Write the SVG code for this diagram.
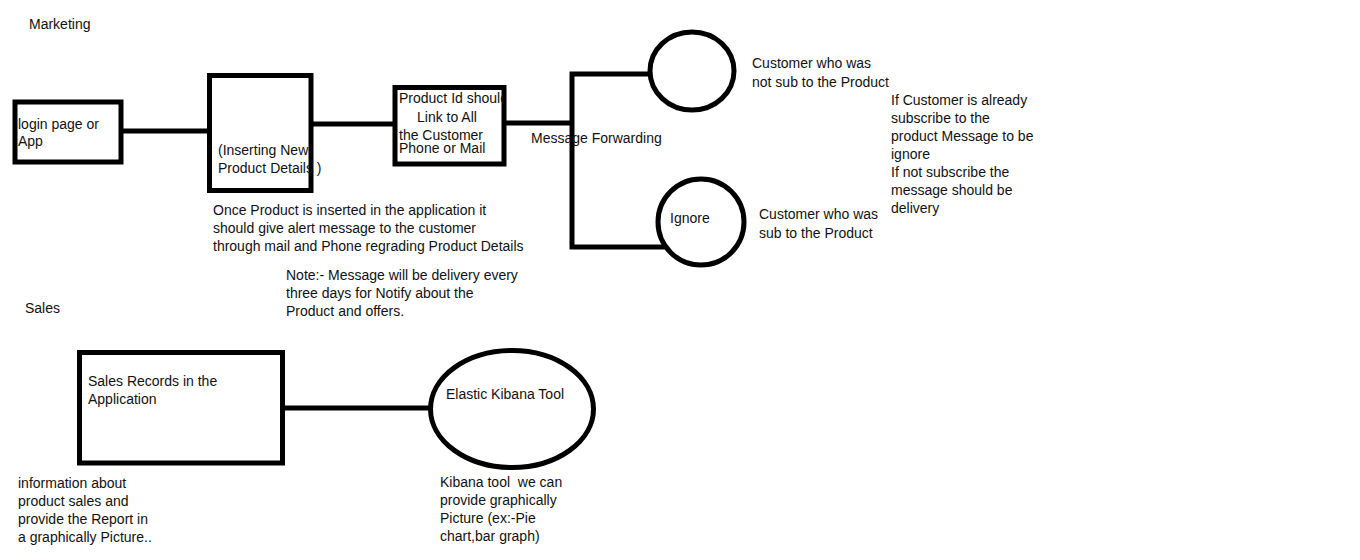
<svg xmlns="http://www.w3.org/2000/svg" width="1360" height="560" viewBox="0 0 1360 560">
<style>
text{font-family:"Liberation Sans",Arial,sans-serif;font-size:14px;fill:#111;white-space:pre}
.shape{fill:none;stroke:#000;stroke-width:5}
.conn{fill:none;stroke:#000;stroke-width:5;stroke-linejoin:miter}
</style>
<defs>
<clipPath id="clipPid"><rect x="395" y="85" width="108" height="80"/></clipPath>
</defs>
<rect width="1360" height="560" fill="#fff"/>
<text x="29" y="29">Marketing</text>
<text x="25" y="313">Sales</text>
<g id="connectors">
<polyline class="conn" points="121,131 209,131"/>
<polyline class="conn" points="311,124 395,124"/>
<polyline class="conn" points="504,123 572,123"/>
<polyline class="conn" points="650,74 572,74 572,247 665,247"/>
<polyline class="conn" points="283,408 430,408"/>
</g>
<g id="login">
<rect class="shape" x="15" y="102" width="106" height="60"/>
<text x="18" y="129">login page or</text>
<text x="18" y="146">App</text>
</g>
<g id="insert">
<rect class="shape" x="209.5" y="75.5" width="101.5" height="115"/>
<text x="218" y="155">(Inserting New</text>
<text x="218" y="173">Product Details )</text>
</g>
<g id="productid">
<rect class="shape" x="395" y="87.5" width="109" height="76.5"/>
<text x="399" y="103" clip-path="url(#clipPid)">Product Id should</text>
<text x="417" y="121.5">Link to All</text>
<text x="399" y="140">the Customer</text>
<text x="399" y="153">Phone or Mail</text>
</g>
<text x="531" y="143">Message Forwarding</text>
<g id="notsub">
<ellipse class="shape" cx="692" cy="71" rx="42" ry="39"/>
</g>
<text x="752" y="68">Customer who was</text>
<text x="752" y="87">not sub to the Product</text>
<g id="ignore">
<ellipse class="shape" cx="701" cy="222" rx="43" ry="43"/>
<text x="670" y="223">Ignore</text>
</g>
<text x="759" y="219">Customer who was</text>
<text x="759" y="238">sub to the Product</text>
<text x="891" y="105">If Customer is already</text>
<text x="891" y="123">subscribe to the</text>
<text x="891" y="141">product Message to be</text>
<text x="891" y="159">ignore</text>
<text x="891" y="177">If not subscribe the</text>
<text x="891" y="195">message should be</text>
<text x="891" y="213">delivery</text>
<text x="213" y="215">Once Product is inserted in the application it</text>
<text x="213" y="233">should give alert message to the customer</text>
<text x="213" y="251">through mail and Phone regrading Product Details</text>
<text x="286" y="280">Note:- Message will be delivery every</text>
<text x="286" y="298">three days for Notify about the</text>
<text x="286" y="316">Product and offers.</text>
<g id="sales">
<rect class="shape" x="79.5" y="352.5" width="203" height="110.5"/>
<text x="88" y="386">Sales Records in the</text>
<text x="88" y="404">Application</text>
</g>
<g id="kibana">
<ellipse class="shape" cx="512" cy="409" rx="81.5" ry="58.5"/>
<text x="446" y="399">Elastic Kibana Tool</text>
</g>
<text x="18" y="488">information about</text>
<text x="18" y="506">product sales and</text>
<text x="18" y="524">provide the Report in</text>
<text x="18" y="542">a graphically Picture..</text>
<text x="440" y="487">Kibana tool  we can</text>
<text x="440" y="505">provide graphically</text>
<text x="440" y="523">Picture (ex:-Pie</text>
<text x="440" y="541">chart,bar graph)</text>
</svg>
